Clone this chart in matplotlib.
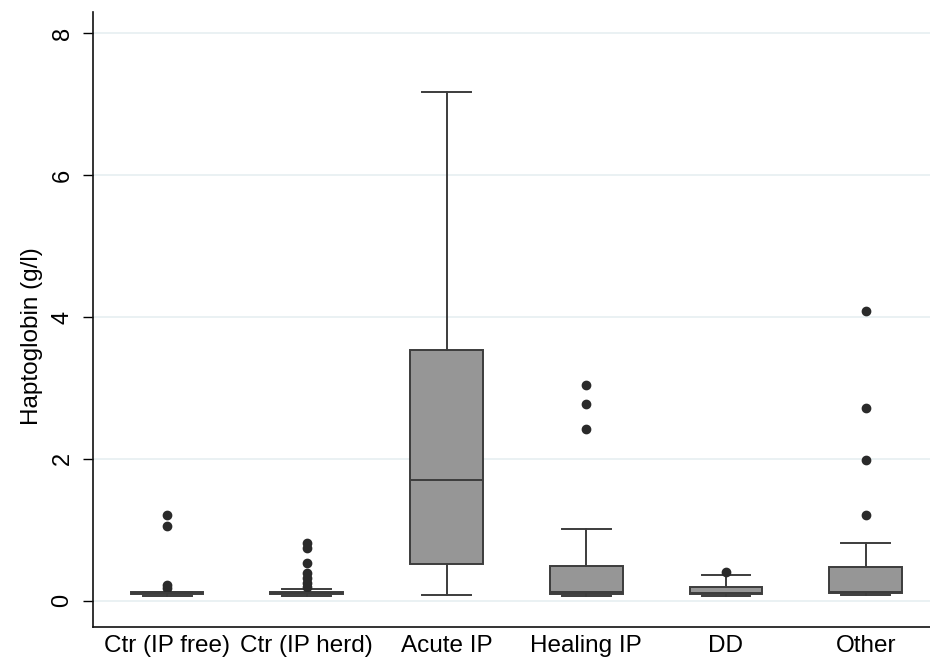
import matplotlib.pyplot as plt

# box statistics (g/l)
groups = ["Ctr (IP free)", "Ctr (IP herd)", "Acute IP", "Healing IP", "DD", "Other"]
whislo = [0.07, 0.07, 0.08, 0.07, 0.07, 0.08]
q1 = [0.10, 0.09, 0.52, 0.10, 0.10, 0.11]
med = [0.11, 0.11, 1.70, 0.12, 0.11, 0.13]
q3 = [0.12, 0.13, 3.54, 0.49, 0.20, 0.47]
whishi = [0.13, 0.16, 7.17, 1.01, 0.37, 0.82]
fliers = [
    [0.18, 0.22, 1.06, 1.21],
    [0.20, 0.25, 0.32, 0.39, 0.53, 0.75, 0.81],
    [],
    [2.42, 2.77, 3.04],
    [0.41],
    [1.21, 1.99, 2.72, 4.08],
]
yticks = [0, 2, 4, 6, 8]

plt.rcParams["font.family"] = ["Liberation Sans", "DejaVu Sans"]

stats = []
for i, name in enumerate(groups):
    stats.append({
        "label": name, "whislo": whislo[i], "q1": q1[i], "med": med[i],
        "q3": q3[i], "whishi": whishi[i], "fliers": fliers[i],
    })

fig = plt.figure(figsize=(9.3, 6.63), dpi=100)
ax = fig.add_axes([0.1, 0.0543, 0.9, 0.9277])

edge = "#3c3c3c"
ax.bxp(
    stats, positions=range(1, len(groups) + 1), widths=0.52, capwidths=0.35,
    patch_artist=True,
    boxprops=dict(facecolor="#969696", edgecolor=edge, linewidth=1.4),
    medianprops=dict(color=edge, linewidth=1.4),
    whiskerprops=dict(color=edge, linewidth=1.4),
    capprops=dict(color=edge, linewidth=1.4),
    flierprops=dict(marker="o", markersize=6, markerfacecolor="#2a2a2a",
                    markeredgecolor="#2a2a2a"),
)

ax.set_xlim(0.47, 6.46)
ax.set_ylim(-0.37, 8.3)
ax.set_yticks(yticks)
ax.set_yticklabels([str(t) for t in yticks], rotation=90, va="center", fontsize=17)
ax.tick_params(axis="y", length=7, width=1, pad=7)
ax.tick_params(axis="x", length=0, pad=6, labelsize=17.5)
ax.set_ylabel("Haptoglobin (g/l)", fontsize=17.5)
ax.yaxis.set_label_coords(-0.060, 0.473)

ax.grid(axis="y", color="#e6eff1", linewidth=1.2)
ax.set_axisbelow(True)
for side in ["top", "right"]:
    ax.spines[side].set_visible(False)
for side in ["left", "bottom"]:
    ax.spines[side].set_linewidth(1.2)
    ax.spines[side].set_color("#111111")

fig.savefig("out.png", dpi=100)
